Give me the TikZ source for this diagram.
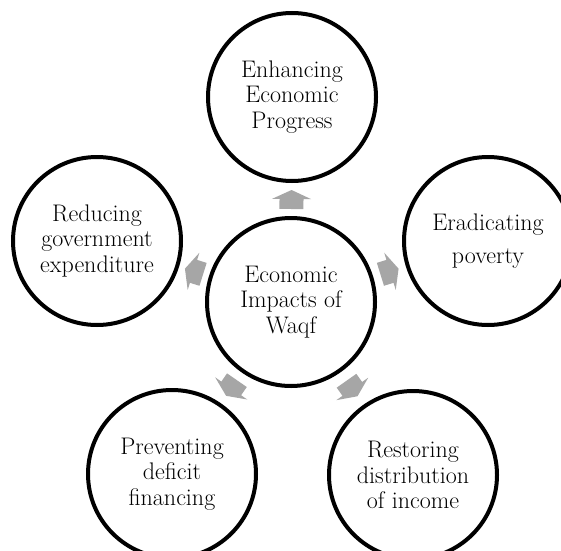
\documentclass[tikz,border=0pt]{standalone}
\usepackage{fontspec}
\usetikzlibrary{calc}

\definecolor{arrowgray}{HTML}{A6A6A6}

\tikzset{
  bubble/.style={circle, draw=black, line width=4pt, fill=white,
    minimum size=168pt, inner sep=0pt, align=center,
    font=\fontsize{24}{25.5}\selectfont},
  blockarrow/.pic={
    \fill[arrowgray] (-9.5,-12) -- (0.5,-12) -- (0.5,-19.5) -- (9.5,0)
      -- (0.5,19.5) -- (0.5,12) -- (-9.5,12) -- cycle;
  }
}

\begin{document}
\begin{tikzpicture}[x=1pt,y=1pt]
  \clip (0,0) rectangle (561,550);
  \fill[white] (0,0) rectangle (561,550);

  % hub
  \node[bubble] (c) at (291,248) {Economic\\Impacts of\\Waqf};

  % surrounding effects
  \node[bubble] (t1) at (292,453) {Enhancing\\Economic\\Progress};
  \node[bubble] (t2) at (488,309) {Eradicating\\[8pt]poverty};
  \node[bubble] (t3) at (413,75)  {Restoring\\distribution\\of income};
  \node[bubble] (t4) at (172,76)  {Preventing\\deficit\\financing};
  \node[bubble] (t5) at (97,309)  {Reducing\\government\\expenditure};

  % block arrows from the hub towards each effect
  \foreach \t in {t1,t2,t3,t4,t5}{
    \path let \p1=($(\t.center)-(c.center)$), \n1={atan2(\y1,\x1)} in
      ($(c.center)!0.5!(\t.center)$) pic[rotate=\n1] {blockarrow};
  }
\end{tikzpicture}
\end{document}
